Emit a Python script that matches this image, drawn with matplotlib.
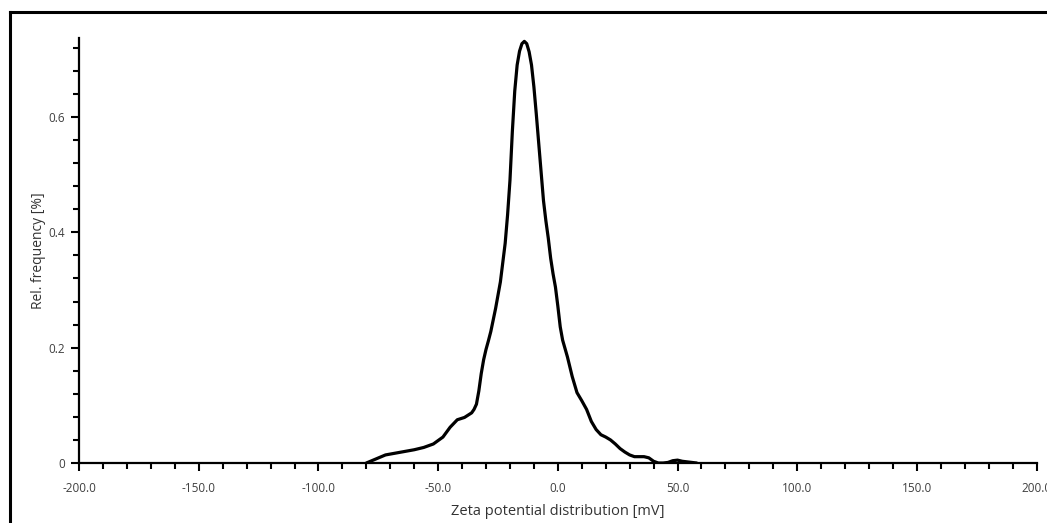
import matplotlib
matplotlib.use("Agg")
import matplotlib.pyplot as plt
from matplotlib.lines import Line2D
from matplotlib.ticker import MultipleLocator, FormatStrFormatter, FuncFormatter

# Zeta potential distribution (mV) and relative frequency (%)
zeta_mv = [-80, -76, -72, -68, -64, -60, -56, -52, -48, -45, -42, -39, -36, -35,
           -34, -33, -32, -31, -30, -29, -28, -26, -24, -22, -21, -20, -19, -18,
           -17, -16, -15, -14, -13, -12, -11, -10, -9, -8, -7, -6,
           -5, -4, -3, -2, -1, 0, 1, 2, 4, 6, 8, 10, 12, 14, 16, 18, 20, 22, 24,
           26, 28, 30, 32, 34, 36, 38, 40, 42, 44, 46, 48, 50, 52, 54, 56, 58]
rel_freq = [0.000, 0.007, 0.014, 0.017, 0.020, 0.023, 0.027, 0.033, 0.045, 0.062,
            0.075, 0.079, 0.087, 0.093, 0.102, 0.125, 0.155, 0.179, 0.197, 0.212,
            0.228, 0.268, 0.314, 0.381, 0.430, 0.490, 0.575, 0.645, 0.690, 0.714,
            0.727, 0.731, 0.727, 0.713, 0.690, 0.652, 0.605, 0.555, 0.505, 0.455,
            0.420, 0.390, 0.355, 0.328, 0.305, 0.272, 0.236, 0.213, 0.184, 0.150,
            0.122, 0.108, 0.093, 0.072, 0.058, 0.049, 0.045, 0.040, 0.033, 0.025,
            0.019, 0.014, 0.011, 0.011, 0.011, 0.009, 0.003, 0.000, 0.000, 0.001,
            0.004, 0.005, 0.003, 0.002, 0.001, 0.000]

x_range = (-200, 200)
y_range = (0, 0.736)

plt.rcParams['font.family'] = ['Open Sans', 'DejaVu Sans']

fig = plt.figure(figsize=(10.47, 5.23), dpi=100)
ax = fig.add_axes([0.0755, 0.1147, 0.9146, 0.8117])

ax.plot(zeta_mv, rel_freq, color='black', lw=2.3, solid_joinstyle='round',
        solid_capstyle='round')

ax.set_xlim(*x_range)
ax.set_ylim(*y_range)

for side in ('top', 'right'):
    ax.spines[side].set_visible(False)
for side in ('left', 'bottom'):
    ax.spines[side].set_linewidth(1.6)
    ax.spines[side].set_color('black')

ax.xaxis.set_major_locator(MultipleLocator(50))
ax.xaxis.set_minor_locator(MultipleLocator(10))
ax.xaxis.set_major_formatter(FormatStrFormatter('%.1f'))
ax.yaxis.set_major_locator(MultipleLocator(0.2))
ax.yaxis.set_minor_locator(MultipleLocator(0.04))
ax.yaxis.set_major_formatter(
    FuncFormatter(lambda v, p: '0' if abs(v) < 1e-9 else f'{v:.1f}'))

ax.tick_params(axis='both', which='major', length=6, width=1.5, color='black',
               labelsize=8.5, labelcolor='#404040')
ax.tick_params(axis='both', which='minor', length=4, width=1.5, color='black')
ax.tick_params(axis='x', which='major', pad=8)
ax.tick_params(axis='y', which='major', pad=4)

ax.set_xlabel('Zeta potential distribution [mV]', fontsize=10.5, color='#333333',
              labelpad=6)
ax.set_ylabel('Rel. frequency [%]', fontsize=10, color='#333333', labelpad=2)

# Window frame along the top and left edges
fig.add_artist(Line2D([10 / 1047, 1.0], [1 - 12 / 523, 1 - 12 / 523],
                      transform=fig.transFigure, color='black', lw=2.2))
fig.add_artist(Line2D([10 / 1047, 10 / 1047], [0.0, 1 - 12 / 523],
                      transform=fig.transFigure, color='black', lw=2.2))

fig.savefig('out.png', dpi=100)
